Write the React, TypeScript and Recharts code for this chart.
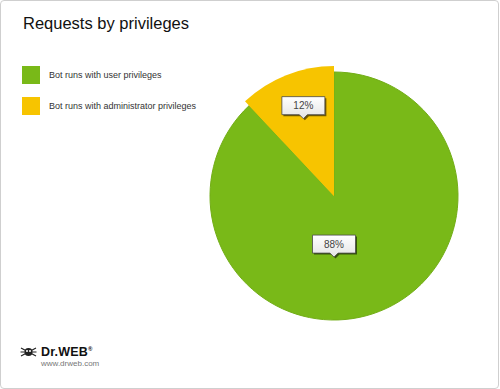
import React from 'react';
import { PieChart, Pie, Cell } from 'recharts';

const categories = ['Bot runs with user privileges', 'Bot runs with administrator privileges'];
const shares = [88, 12];
const colors = ['#79b918', '#f7c400'];

const data = categories.map((name, i) => ({ name, value: shares[i] }));

const FONT = '"Liberation Sans", Arial, sans-serif';

const renderCallout = (props: any) => {
  const { cx, cy, midAngle, outerRadius, percent, value } = props;
  const RAD = Math.PI / 180;
  let tx: number;
  let ty: number;
  if (percent > 0.5) {
    tx = cx;
    ty = cy + outerRadius * 0.47;
  } else {
    const r = outerRadius * 0.64;
    tx = cx + r * Math.cos(-midAngle * RAD);
    ty = cy + r * Math.sin(-midAngle * RAD);
  }
  const w = 43;
  const h = 18;
  const x = tx - w / 2;
  const y = ty - h - 4;
  const box = `M${x},${y} h${w} v${h} h${-(w / 2 - 4)} l-4,4 l-4,-4 h${-(w / 2 - 4)} Z`;
  return (
    <g>
      <path d={box} transform="translate(1.5,1.5)" fill="rgba(0,0,0,0.55)" />
      <path d={box} fill="url(#calloutFill)" stroke="#4a4a4a" strokeWidth={0.8} />
      <text
        x={tx}
        y={y + h / 2 + 3.5}
        textAnchor="middle"
        fontFamily={FONT}
        fontSize={10}
        fill="#444"
      >
        {value}%
      </text>
    </g>
  );
};

const LegendBox = () => (
  <div style={{ fontFamily: FONT, fontSize: 9, color: '#333' }}>
    {categories.map((name, i) => (
      <div key={name} style={{ display: 'flex', alignItems: 'center', height: 18, marginBottom: 13 }}>
        <div style={{ width: 18, height: 18, background: colors[i], marginRight: 9 }} />
        <span>{name}</span>
      </div>
    ))}
  </div>
);

const Spider = () => (
  <svg width={17} height={12} viewBox="0 0 17 12">
    <g stroke="#222" strokeWidth={1.2} fill="none">
      <path d="M8.5,6 L1,2 M8.5,6 L0.5,6 M8.5,6 L1,10 M8.5,6 L16,2 M8.5,6 L16.5,6 M8.5,6 L16,10" />
    </g>
    <circle cx={8.5} cy={6} r={4} fill="#222" />
    <circle cx={7} cy={5} r={1} fill="#fff" />
    <circle cx={10} cy={5} r={1} fill="#fff" />
  </svg>
);

export default function App() {
  return (
    <div
      style={{
        position: 'absolute',
        left: 0,
        top: 0,
        width: 499,
        height: 389,
        boxSizing: 'border-box',
        border: '1px solid #cfcfcf',
        borderRadius: 4,
        background: '#fff',
        overflow: 'hidden',
      }}
    >
      <div
        style={{
          position: 'absolute',
          left: 22,
          top: 13,
          fontFamily: FONT,
          fontSize: 16.5,
          color: '#111',
        }}
      >
        Requests by privileges
      </div>
      <div style={{ position: 'absolute', left: 21, top: 65 }}>
        <LegendBox />
      </div>
      <div style={{ position: 'absolute', left: -1, top: -1 }}>
        <PieChart width={499} height={389} margin={{ top: 0, right: 0, bottom: 0, left: 0 }}>
          <defs>
            <linearGradient id="calloutFill" x1="0" y1="0" x2="0" y2="1">
              <stop offset="0%" stopColor="#ffffff" />
              <stop offset="100%" stopColor="#e4e4e4" />
            </linearGradient>
          </defs>
          <Pie
            data={data}
            dataKey="value"
            cx={334}
            cy={196}
            outerRadius={124}
            startAngle={90}
            endAngle={-270}
            isAnimationActive={false}
            label={false}
          >
            {data.map((d, i) => (
              <Cell key={d.name} fill={colors[i]} stroke={i === 0 ? '#72ad17' : 'none'} strokeWidth={1} />
            ))}
          </Pie>
          <Pie
            data={data}
            dataKey="value"
            cx={334}
            cy={196}
            outerRadius={130}
            startAngle={90}
            endAngle={-270}
            isAnimationActive={false}
            labelLine={false}
            label={renderCallout}
          >
            {data.map((d, i) => (
              <Cell key={d.name} fill={i === 1 ? colors[1] : 'none'} stroke="none" />
            ))}
          </Pie>
        </PieChart>
      </div>
      <div style={{ position: 'absolute', left: 19, top: 344, display: 'flex', alignItems: 'center' }}>
        <Spider />
        <span
          style={{
            fontFamily: FONT,
            fontWeight: 'bold',
            fontSize: 12.5,
            color: '#111',
            marginLeft: 4,
            letterSpacing: 0.2,
          }}
        >
          Dr.WEB<sup style={{ fontSize: 6 }}>®</sup>
        </span>
      </div>
      <div
        style={{
          position: 'absolute',
          left: 40,
          top: 358,
          fontFamily: FONT,
          fontSize: 8,
          color: '#777',
        }}
      >
        www.drweb.com
      </div>
    </div>
  );
}
